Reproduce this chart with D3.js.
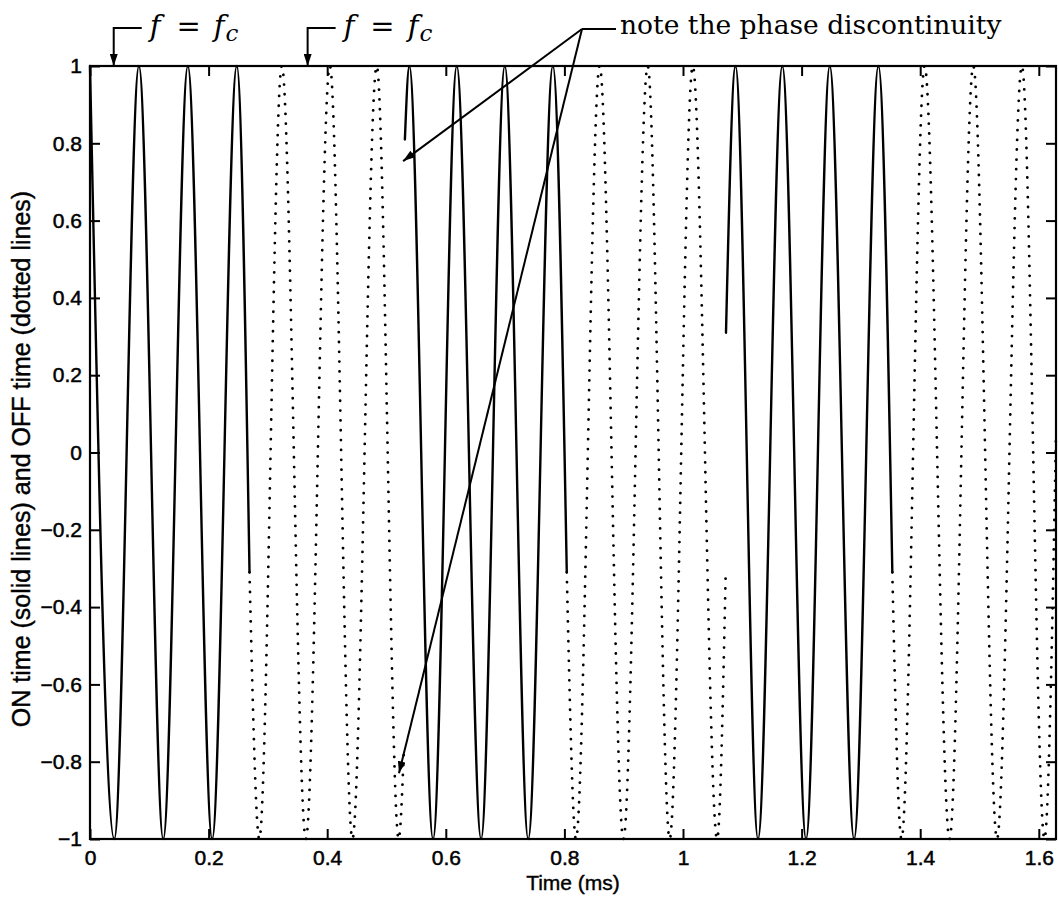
<!DOCTYPE html>
<html>
<head>
<meta charset="utf-8">
<script src="https://cdn.jsdelivr.net/npm/d3@7"></script>
<style>
  body { margin: 0; background: #fff; }
  svg { display: block; }
</style>
</head>
<body>
<svg id="chart" width="1059" height="899"></svg>
<script>
// Key points of each ON / OFF stretch: start, every peak and trough, end
// time in ms, amplitude
const on1Time  = [0, 0.041, 0.0825, 0.1235, 0.165, 0.206, 0.2475, 0.269];
const on1Amp   = [1, -1, 1, -1, 1, -1, 1, -0.31];
const off1Time = [0.269, 0.2855, 0.3235, 0.364, 0.4045, 0.4425, 0.4835, 0.5205, 0.529];
const off1Amp  = [-0.31, -1, 1, -1, 1, -1, 1, -1, -0.78];
const on2Time  = [0.531, 0.5385, 0.5785, 0.6185, 0.6595, 0.6995, 0.739, 0.7805, 0.804];
const on2Amp   = [0.81, 1, -1, 1, -1, 1, -1, 1, -0.31];
const off2Time = [0.804, 0.8195, 0.8595, 0.8995, 0.9405, 0.9775, 1.0165, 1.0575, 1.072];
const off2Amp  = [-0.31, -1, 1, -1, 1, -1, 1, -1, -0.31];
const on3Time  = [1.0725, 1.0885, 1.1265, 1.1675, 1.2075, 1.2475, 1.2885, 1.3295, 1.353];
const on3Amp   = [0.31, 1, -1, 1, -1, 1, -1, 1, -0.31];
const off3Time = [1.353, 1.3685, 1.4075, 1.4495, 1.4895, 1.5295, 1.5715, 1.6095, 1.629];
const off3Amp  = [-0.31, -1, 1, -1, 1, -1, 1, -1, 0.05];

const xTicks = [0, 0.2, 0.4, 0.6, 0.8, 1, 1.2, 1.4, 1.6];
const yTicks = [-1, -0.8, -0.6, -0.4, -0.2, 0, 0.2, 0.4, 0.6, 0.8, 1];

// annotations (data units)
const fcArrowTimes = [0.04, 0.367];
const phaseArrowTips = [[0.528, 0.754], [0.521, -0.83]];

const segments = [
  { time: on1Time, amp: on1Amp, on: true },
  { time: off1Time, amp: off1Amp, on: false },
  { time: on2Time, amp: on2Amp, on: true },
  { time: off2Time, amp: off2Amp, on: false },
  { time: on3Time, amp: on3Amp, on: true },
  { time: off3Time, amp: off3Amp, on: false }
].map(s => ({ on: s.on, pts: s.time.map((t, i) => [t, s.amp[i]]) }));

const svg = d3.select("#chart");
const margin = { top: 66, right: 3, bottom: 60, left: 90 };
const width = 1059 - margin.left - margin.right;
const height = 899 - margin.top - margin.bottom;

const chart = svg.append("g")
  .attr("transform", `translate(${margin.left},${margin.top})`);

const x = d3.scaleLinear().domain([0, 1.629]).range([0, width]);
const y = d3.scaleLinear().domain([-1, 1]).range([height, 0]);

const fmt = d => String(Math.round(d * 10) / 10).replace("-", "\u2212");
const sans = "'Liberation Sans', Arial, sans-serif";

// arrow head
svg.append("defs").append("marker")
  .attr("id", "head")
  .attr("viewBox", "0 0 12 8")
  .attr("refX", 12).attr("refY", 4)
  .attr("markerWidth", 12).attr("markerHeight", 8)
  .attr("markerUnits", "userSpaceOnUse")
  .attr("orient", "auto")
  .append("path").attr("d", "M0,0L12,4L0,8Z").attr("fill", "#000");

// the signal
const line = d3.line()
  .x(d => x(d[0]))
  .y(d => y(d[1]))
  .curve(d3.curveMonotoneX);

chart.selectAll(".seg")
  .data(segments)
  .enter().append("path")
  .attr("class", "seg")
  .attr("d", d => line(d.pts))
  .attr("fill", "none")
  .attr("stroke", "#000")
  .attr("stroke-width", d => d.on ? 2.4 : 2.8)
  .attr("stroke-linecap", "round")
  .attr("stroke-dasharray", d => d.on ? null : "0.01 9.8");

// axes, ticks pointing inward like matlab
function styleAxis(g) {
  g.select(".domain").remove();
  g.selectAll(".tick line").attr("stroke", "#000").attr("stroke-width", 2);
  g.selectAll(".tick text")
    .attr("fill", "#000")
    .attr("stroke", "#000")
    .attr("stroke-width", 0.5)
    .style("font-family", sans)
    .style("font-size", "21px");
}

chart.append("g")
  .attr("transform", `translate(0,${height})`)
  .call(d3.axisBottom(x).tickValues(xTicks).tickSize(-10).tickPadding(11).tickFormat(fmt))
  .call(styleAxis);

chart.append("g")
  .call(d3.axisTop(x).tickValues(xTicks).tickSize(-10).tickFormat(""))
  .call(styleAxis);

chart.append("g")
  .call(d3.axisLeft(y).tickValues(yTicks).tickSize(-10).tickPadding(8).tickFormat(fmt))
  .call(styleAxis);

chart.append("g")
  .attr("transform", `translate(${width},0)`)
  .call(d3.axisRight(y).tickValues(yTicks).tickSize(-10).tickFormat(""))
  .call(styleAxis);

chart.append("rect")
  .attr("width", width)
  .attr("height", height)
  .attr("fill", "none")
  .attr("stroke", "#000")
  .attr("stroke-width", 2.2);

// axis titles
svg.append("text")
  .attr("x", margin.left + width / 2)
  .attr("y", 890)
  .attr("text-anchor", "middle")
  .attr("stroke", "#000").attr("stroke-width", 0.4)
  .style("font-family", sans)
  .style("font-size", "21px")
  .text("Time (ms)");

svg.append("text")
  .attr("transform", `translate(30,459) rotate(-90)`)
  .attr("text-anchor", "middle")
  .attr("stroke", "#000").attr("stroke-width", 0.4)
  .style("font-family", sans)
  .style("font-size", "25px")
  .text("ON time (solid lines) and OFF time (dotted lines)");

// f = f_c markers
const leaderY = 28;
fcArrowTimes.forEach(t => {
  const ax = margin.left + x(t);
  svg.append("path")
    .attr("d", `M${ax + 28},${leaderY}L${ax},${leaderY}L${ax},${margin.top}`)
    .attr("fill", "none")
    .attr("stroke", "#000")
    .attr("stroke-width", 2)
    .attr("marker-end", "url(#head)");

  const lbl = svg.append("text")
    .attr("x", ax + 36)
    .attr("y", 36)
    .style("font-family", "'DejaVu Serif', serif")
    .style("font-size", "29px");
  lbl.append("tspan").style("font-style", "italic").text("f");
  lbl.append("tspan").attr("dx", 16).text("=");
  lbl.append("tspan").attr("dx", 13).style("font-style", "italic").text("f");
  lbl.append("tspan").attr("dx", 1).attr("dy", 5)
    .style("font-style", "italic").style("font-size", "23px").text("c");
});

// phase discontinuity callout
const jx = 582, jy = 29;
svg.append("path")
  .attr("d", `M${jx},${jy}L${jx + 34},${jy}`)
  .attr("stroke", "#000")
  .attr("stroke-width", 2);

phaseArrowTips.forEach(p => {
  svg.append("path")
    .attr("d", `M${jx},${jy}L${margin.left + x(p[0])},${margin.top + y(p[1])}`)
    .attr("fill", "none")
    .attr("stroke", "#000")
    .attr("stroke-width", 2)
    .attr("marker-end", "url(#head)");
});

svg.append("text")
  .attr("x", jx + 38)
  .attr("y", 34)
  .style("font-family", "'DejaVu Serif', serif")
  .style("font-size", "26.5px")
  .text("note the phase discontinuity");
</script>
</body>
</html>
